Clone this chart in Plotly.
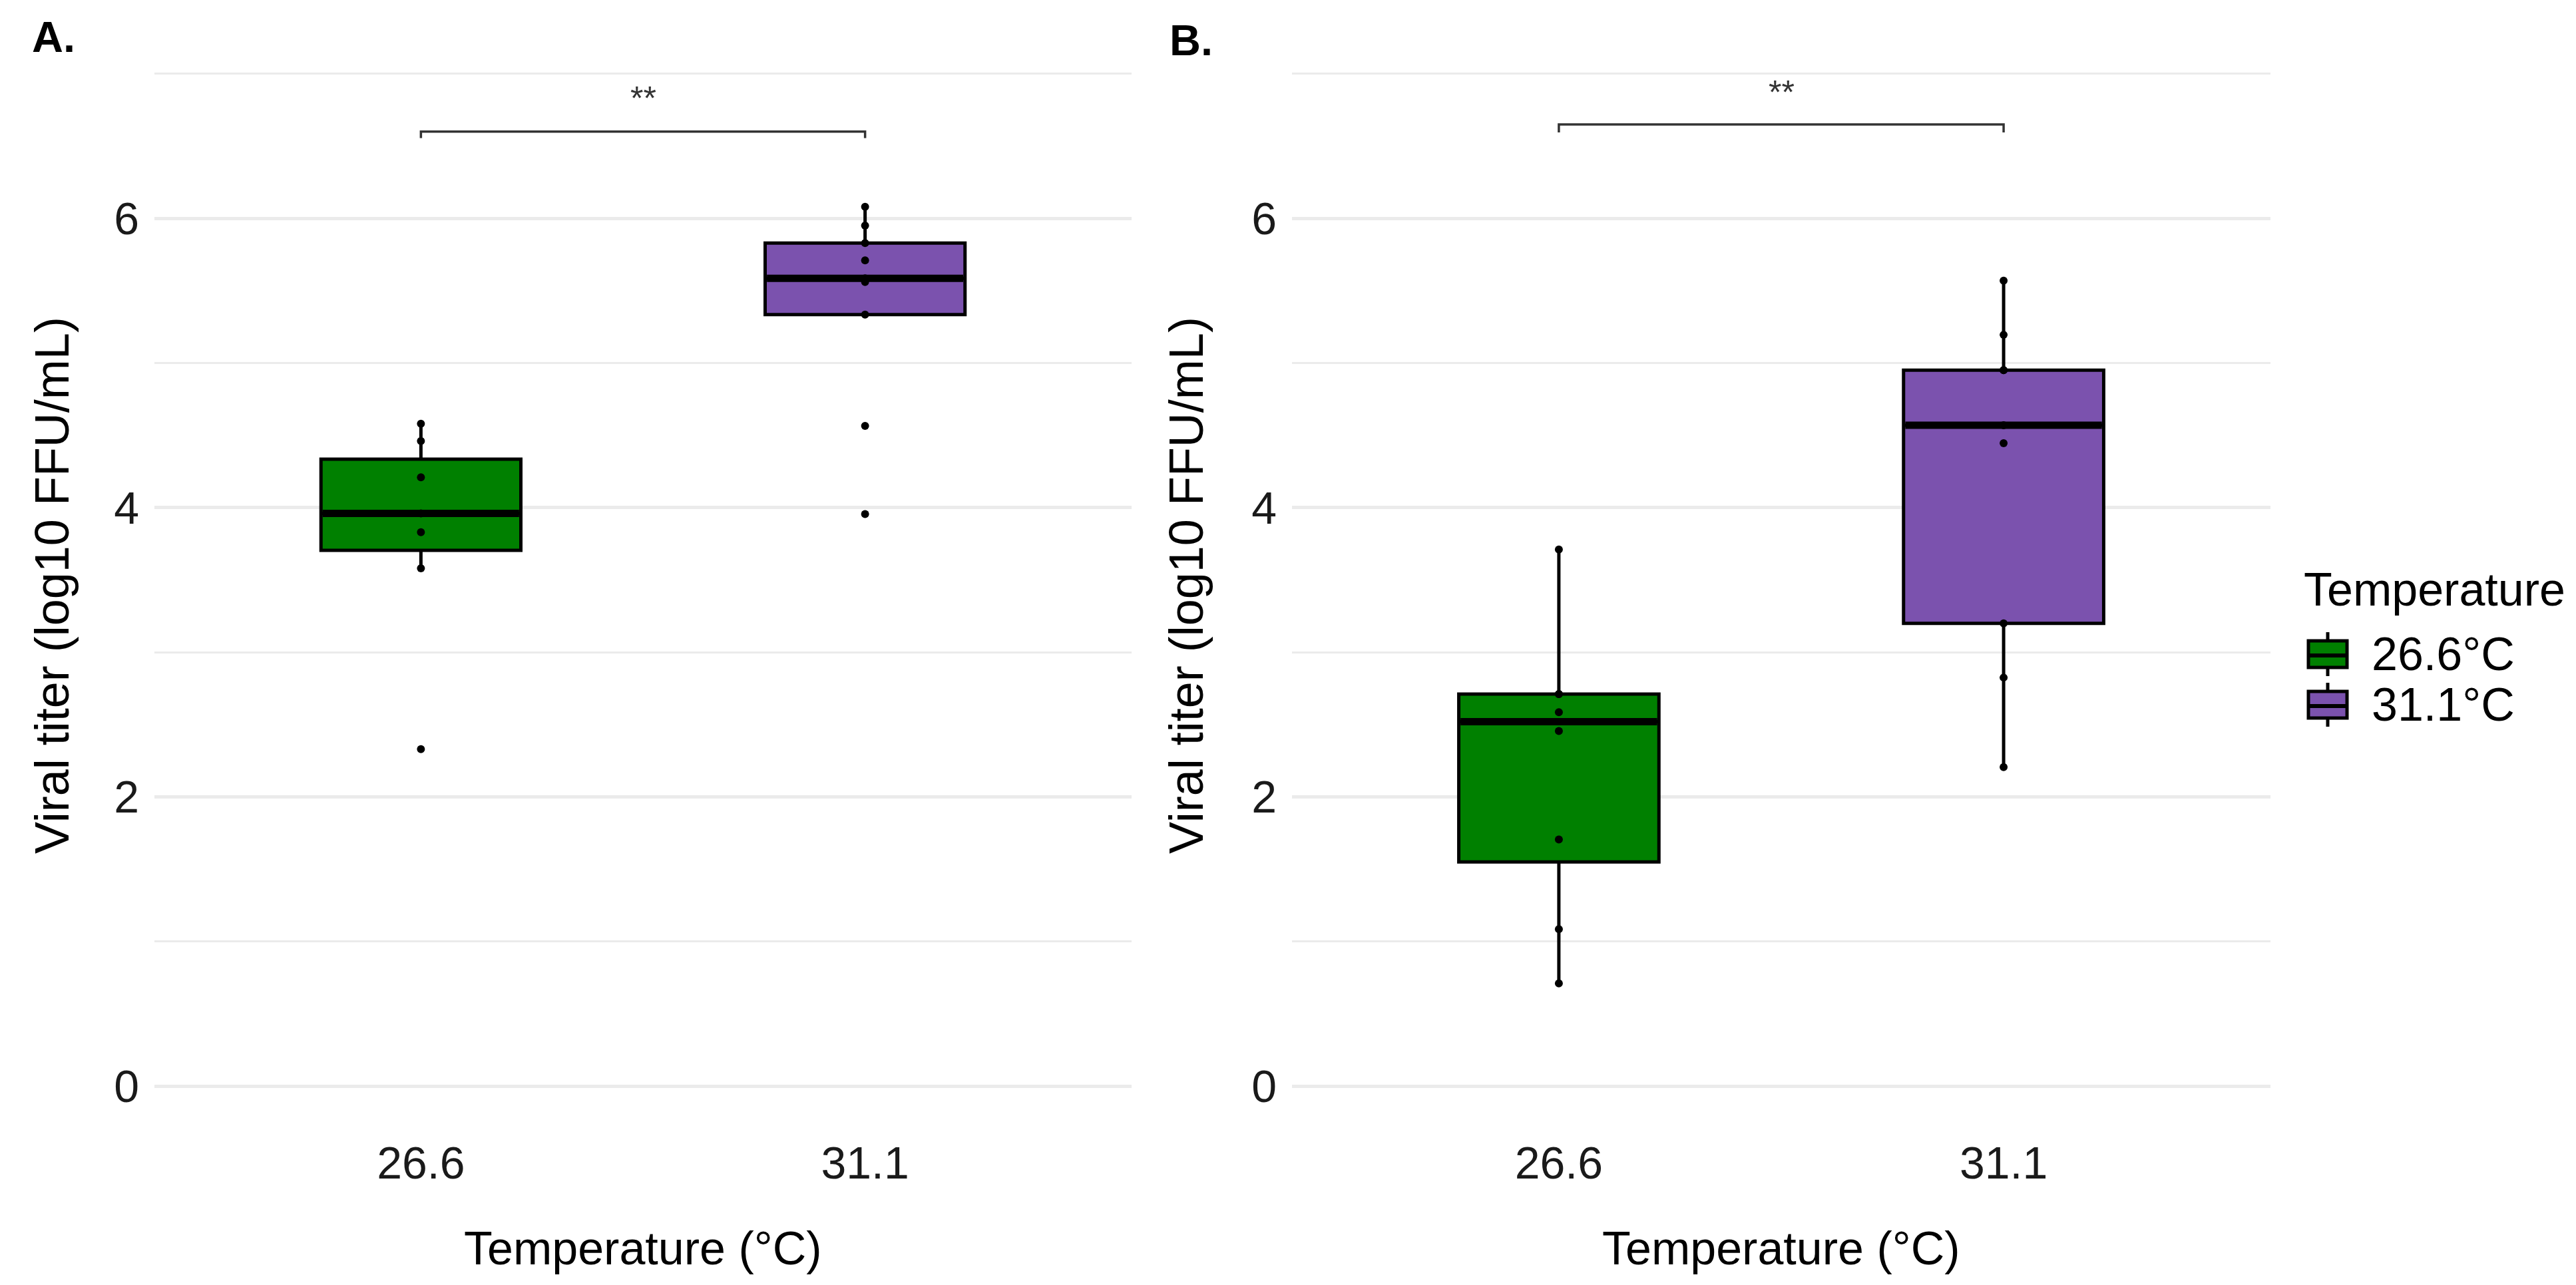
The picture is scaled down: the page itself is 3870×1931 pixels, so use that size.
import numpy as np
import plotly.graph_objects as go

# ---------------- data ----------------
categories = ["26.6", "31.1"]
legend_labels = ["26.6°C", "31.1°C"]
colors = ["#008000", "#7B52AE"]

panelA_26 = [4.58, 4.46, 4.21, 3.96, 3.83, 3.58, 2.33]
panelA_31 = [6.08, 5.95, 5.83, 5.71, 5.585, 5.56, 5.335, 4.565, 3.955]
panelB_26 = [3.71, 2.71, 2.71, 2.585, 2.455, 1.705, 1.085, 0.71]
panelB_31 = [5.57, 5.195, 4.95, 4.95, 4.57, 4.445, 3.20, 2.825, 2.205]

sig_label = "**"
bracketA_y = [6.555, 6.60, 6.60, 6.555]
bracketB_y = [6.595, 6.65, 6.65, 6.595]
sigA_text_y = 6.83
sigB_text_y = 6.87

y_ticks = [0, 2, 4, 6]
y_range = [-0.32, 7.25]

W, H = 3870, 1931
FONT = "Liberation Sans, Arial, sans-serif"

# pixel calibration of the panel (style/layout only)
Y0_PX, UNIT_PX = 1624.0, 217.3


def px(x):
    return x / W


def py(y):
    return 1 - y / H


def box_stats(vals):
    v = np.sort(np.asarray(vals, dtype=float))
    q1, med, q3 = np.percentile(v, [25, 50, 75])
    iqr = q3 - q1
    lo = v[v >= q1 - 1.5 * iqr].min()
    hi = v[v <= q3 + 1.5 * iqr].max()
    return q1, med, q3, lo, hi


fig = go.Figure()

panels = [
    ("x", "y", [panelA_26, panelA_31]),
    ("x2", "y2", [panelB_26, panelB_31]),
]

BOX_W = 0.45
for xa, ya, groups in panels:
    for cat, col, vals in zip(categories, colors, groups):
        q1, med, q3, lo, hi = box_stats(vals)
        fig.add_trace(go.Box(
            x=[cat], q1=[q1], median=[med], q3=[q3],
            lowerfence=[lo], upperfence=[hi],
            width=BOX_W, fillcolor=col,
            line=dict(color="black", width=5),
            whiskerwidth=0, boxpoints=False,
            xaxis=xa, yaxis=ya, showlegend=False, hoverinfo="skip",
        ))
        # thick median line
        fig.add_trace(go.Box(
            x=[cat], q1=[med], median=[med], q3=[med],
            lowerfence=[med], upperfence=[med],
            width=BOX_W - 0.008, fillcolor="rgba(0,0,0,0)",
            line=dict(color="black", width=11),
            whiskerwidth=0, boxpoints=False,
            xaxis=xa, yaxis=ya, showlegend=False, hoverinfo="skip",
        ))
        fig.add_trace(go.Scatter(
            x=[cat] * len(vals), y=vals, mode="markers",
            marker=dict(color="black", size=12, line=dict(width=0)),
            xaxis=xa, yaxis=ya, showlegend=False, hoverinfo="skip",
        ))

# significance brackets
for xa, ya, by, ty in [("x", "y", bracketA_y, sigA_text_y),
                       ("x2", "y2", bracketB_y, sigB_text_y)]:
    fig.add_trace(go.Scatter(
        x=[categories[0], categories[0], categories[1], categories[1]],
        y=by, mode="lines", line=dict(color="#333333", width=3.5),
        xaxis=xa, yaxis=ya, showlegend=False, hoverinfo="skip",
    ))
    fig.add_annotation(
        x=0.5, y=ty, xref=xa, yref=ya, text=sig_label, showarrow=False,
        font=dict(family=FONT, size=50, color="#333333"),
        xanchor="center", yanchor="middle",
    )

# axes
y_bot_px = Y0_PX - y_range[0] * UNIT_PX
y_top_px = Y0_PX - y_range[1] * UNIT_PX
ydom = [py(y_bot_px), py(y_top_px)]

axis_common_y = dict(
    range=y_range, tickvals=y_ticks, ticktext=[str(t) for t in y_ticks],
    showgrid=True, gridcolor="#EBEBEB", gridwidth=4.5,
    zeroline=False, showline=False, ticks="",
    tickfont=dict(family=FONT, size=68, color="#1a1a1a"),
    ticklabelstandoff=22,
    minor=dict(dtick=1, tick0=0, showgrid=True, gridcolor="#EBEBEB", gridwidth=3, ticks=""),
    domain=ydom,
)
axis_common_x = dict(
    type="category", categoryorder="array", categoryarray=categories,
    range=[-0.6, 1.6], showgrid=False, zeroline=False, showline=False, ticks="",
    tickfont=dict(family=FONT, size=68, color="#1a1a1a"),
)

fig.update_layout(
    width=W, height=H,
    margin=dict(l=0, r=0, t=0, b=0),
    paper_bgcolor="white", plot_bgcolor="white",
    boxmode="overlay",
    xaxis=dict(**axis_common_x, domain=[px(224), px(1692)], anchor="y"),
    yaxis=dict(**axis_common_y, anchor="x"),
    xaxis2=dict(**axis_common_x, domain=[px(1933), px(3403)], anchor="y2"),
    yaxis2=dict(**axis_common_y, anchor="x2"),
    font=dict(family=FONT),
)

# axis titles
for xc in [958, 2668]:
    fig.add_annotation(x=px(xc), y=py(1868), xref="paper", yref="paper",
                       text="Temperature (°C)", showarrow=False,
                       font=dict(family=FONT, size=70, color="black"),
                       xanchor="center", yanchor="middle")
for xc in [70, 1774]:
    fig.add_annotation(x=px(xc), y=py(872), xref="paper", yref="paper",
                       text="Viral titer (log10 FFU/mL)", showarrow=False, textangle=-90,
                       font=dict(family=FONT, size=72, color="black"),
                       xanchor="center", yanchor="middle")

# panel letters
fig.add_annotation(x=px(38), y=py(47), xref="paper", yref="paper", text="<b>A.</b>",
                   showarrow=False, font=dict(family=FONT, size=65, color="black"),
                   xanchor="left", yanchor="middle")
fig.add_annotation(x=px(1747), y=py(52), xref="paper", yref="paper", text="<b>B.</b>",
                   showarrow=False, font=dict(family=FONT, size=65, color="black"),
                   xanchor="left", yanchor="middle")

# manual legend
fig.add_annotation(x=px(3451), y=py(878), xref="paper", yref="paper", text="Temperature",
                   showarrow=False, font=dict(family=FONT, size=70, color="black"),
                   xanchor="left", yanchor="middle")
for i, (lab, col) in enumerate(zip(legend_labels, colors)):
    cy = 975 + 76 * i
    fig.add_shape(type="line", xref="paper", yref="paper",
                  x0=px(3489), x1=px(3489), y0=py(cy - 33), y1=py(cy + 33),
                  line=dict(color="black", width=5))
    fig.add_shape(type="rect", xref="paper", yref="paper",
                  x0=px(3460), x1=px(3518), y0=py(cy - 20), y1=py(cy + 20),
                  fillcolor=col, line=dict(color="black", width=5))
    fig.add_shape(type="line", xref="paper", yref="paper",
                  x0=px(3460), x1=px(3518), y0=py(cy + 2), y1=py(cy + 2),
                  line=dict(color="black", width=6))
    fig.add_annotation(x=px(3553), y=py(cy), xref="paper", yref="paper", text=lab,
                       showarrow=False, font=dict(family=FONT, size=70, color="black"),
                       xanchor="left", yanchor="middle")

fig.write_html("out.html")
